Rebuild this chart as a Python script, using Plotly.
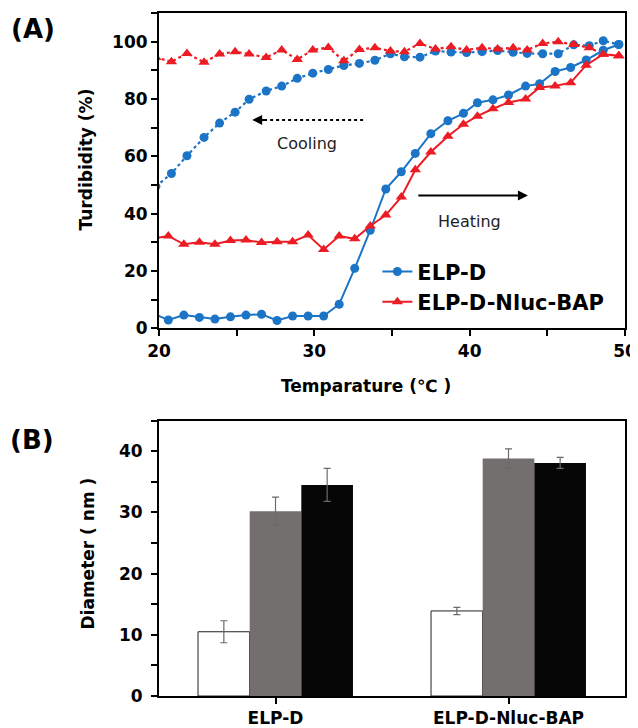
import plotly.graph_objects as go

# ---------------- Panel A data ----------------
heat_temp = [19.6, 20.6, 21.6, 22.6, 23.6, 24.6, 25.6, 26.6, 27.6, 28.6, 29.6, 30.6,
             31.6, 32.6, 33.6, 34.6, 35.6, 36.5, 37.5, 38.6, 39.6, 40.5, 41.5, 42.5,
             43.6, 44.5, 45.5, 46.5, 47.5, 48.6, 49.6]
elp_heat = [5.2, 2.9, 4.6, 3.8, 3.2, 4.0, 4.6, 4.9, 2.7, 4.3, 4.3, 4.3,
            8.4, 20.9, 34.2, 48.6, 54.6, 61.0, 67.9, 72.4, 75.0, 78.7, 79.7, 81.4,
            84.5, 85.3, 89.6, 91.0, 93.6, 97.0, 99.0]
nluc_heat = [31.3, 32.2, 29.3, 30.0, 29.3, 30.6, 30.8, 29.9, 30.2, 30.2, 32.5, 27.5,
             32.2, 31.2, 35.7, 39.5, 45.8, 55.3, 61.5, 67.0, 71.2, 74.0, 76.6, 78.8,
             80.0, 84.0, 84.5, 85.7, 91.8, 95.6, 95.1]

cool_temp = [19.8, 20.8, 21.8, 22.9, 23.9, 24.9, 25.8, 26.9, 27.9, 28.9, 29.9, 30.9,
             31.9, 32.9, 33.9, 34.9, 35.8, 36.8, 37.8, 38.8, 39.8, 40.8, 41.8, 42.8,
             43.7, 44.7, 45.7, 46.7, 47.7, 48.6, 49.6]
elp_cool = [49.5, 54.0, 60.2, 66.6, 71.6, 75.4, 79.9, 82.8, 84.5, 87.2, 89.0, 90.3,
            91.7, 92.4, 93.5, 95.8, 94.7, 94.6, 96.7, 96.4, 96.2, 96.5, 96.9, 96.3,
            95.9, 95.8, 95.8, 98.9, 98.6, 100.3, 99.0]
nluc_cool = [94.5, 93.0, 95.9, 92.8, 95.7, 96.5, 95.7, 94.5, 97.1, 93.8, 97.1, 98.0,
             93.3, 97.3, 97.9, 96.7, 96.5, 99.4, 97.4, 98.2, 97.1, 97.9, 97.4, 97.9,
             97.1, 99.4, 100.0, 99.0, 97.9, 95.6, 95.1]

x_ticks_a = [20, 30, 40, 50]
y_ticks_a = [0, 20, 40, 60, 80, 100]

# ---------------- Panel B data ----------------
samples = ["ELP-D", "ELP-D-Nluc-BAP"]
diam_white = [10.5, 13.9]
err_white = [1.8, 0.6]
diam_gray = [30.2, 38.8]
err_gray = [2.3, 1.6]
diam_black = [34.5, 38.1]
err_black = [2.7, 0.9]

BLUE = "#1b74c5"
RED = "#ec1c24"
FONT = "DejaVu Sans"

fig = go.Figure()

# Panel A traces
fig.add_trace(go.Scatter(x=cool_temp, y=elp_cool, mode="lines+markers", name="ELP-D cooling",
                         line=dict(color=BLUE, width=2.2, dash="dot"),
                         marker=dict(symbol="circle", size=9, color=BLUE),
                         showlegend=False, xaxis="x", yaxis="y"))
fig.add_trace(go.Scatter(x=cool_temp, y=nluc_cool, mode="lines+markers", name="ELP-D-Nluc-BAP cooling",
                         line=dict(color=RED, width=2.2, dash="dot"),
                         marker=dict(symbol="triangle-up", size=10, color=RED),
                         showlegend=False, xaxis="x", yaxis="y"))
fig.add_trace(go.Scatter(x=heat_temp, y=elp_heat, mode="lines+markers", name="ELP-D",
                         line=dict(color=BLUE, width=2),
                         marker=dict(symbol="circle", size=9, color=BLUE),
                         xaxis="x", yaxis="y"))
fig.add_trace(go.Scatter(x=heat_temp, y=nluc_heat, mode="lines+markers", name="ELP-D-Nluc-BAP",
                         line=dict(color=RED, width=2),
                         marker=dict(symbol="triangle-up", size=10, color=RED),
                         xaxis="x", yaxis="y"))

# Panel B traces
err_style = dict(type="data", visible=True, color="#6a6a6a", thickness=1.2, width=3.5)
fig.add_trace(go.Bar(x=samples, y=diam_white, name="white", showlegend=False,
                     marker=dict(color="white", line=dict(color="#222222", width=1)),
                     error_y=dict(array=err_white, **err_style), xaxis="x2", yaxis="y2"))
fig.add_trace(go.Bar(x=samples, y=diam_gray, name="gray", showlegend=False,
                     marker=dict(color="#736f6e", line=dict(width=0)),
                     error_y=dict(array=err_gray, **err_style), xaxis="x2", yaxis="y2"))
fig.add_trace(go.Bar(x=samples, y=diam_black, name="black", showlegend=False,
                     marker=dict(color="#060606", line=dict(width=0)),
                     error_y=dict(array=err_black, **err_style), xaxis="x2", yaxis="y2"))

tickfont = dict(family=FONT, size=17, color="black", weight="bold")
axis_common = dict(showline=True, linecolor="black", linewidth=2, mirror=True,
                   ticks="outside", ticklen=6, tickwidth=2, tickcolor="black",
                   showgrid=False, zeroline=False, tickfont=tickfont, automargin=False)

# The page body has an 8px margin, so the figure is 8px smaller and margins shifted.
fig.update_layout(
    width=630, height=720,
    margin=dict(l=151, r=13, t=5, b=32, autoexpand=False),
    paper_bgcolor="white", plot_bgcolor="white",
    barmode="group", bargap=0.335, bargroupgap=0,
    xaxis=dict(domain=[0, 1], anchor="y", range=[20, 50], tickvals=x_ticks_a,
               minor=dict(ticks="outside", dtick=5, tick0=20, ticklen=6, tickwidth=2, tickcolor="black"),
               **axis_common),
    yaxis=dict(domain=[0.5384, 1], anchor="x", range=[0, 110], tickvals=y_ticks_a,
               minor=dict(ticks="outside", dtick=10, tick0=0, ticklen=6, tickwidth=2, tickcolor="black"),
               **axis_common),
    xaxis2=dict(domain=[0, 1], anchor="y2", type="category", **axis_common),
    yaxis2=dict(domain=[0, 0.4031], anchor="x2", range=[0, 45], tickvals=[0, 10, 20, 30, 40],
                minor=dict(ticks="outside", dtick=5, tick0=0, ticklen=6, tickwidth=2, tickcolor="black"),
                ticklabelstandoff=5, **axis_common),
    legend=dict(x=0.4686, y=0.651, xanchor="left", yanchor="top",
                font=dict(family=FONT, size=21, color="black", weight="bold"),
                bgcolor="rgba(0,0,0,0)", borderwidth=0, itemwidth=30),
    font=dict(family=FONT, color="black"),
)

# Cooling dotted arrow
fig.add_shape(type="line", xref="x", yref="y", x0=33.14, y0=72.7, x1=26.6, y1=72.7,
              line=dict(color="black", width=2, dash="dot"))
fig.add_annotation(xref="x", yref="y", x=26.0, y=72.7, ax=26.9, ay=72.7, axref="x", ayref="y",
                   showarrow=True, arrowhead=2, arrowsize=1, arrowwidth=2, arrowcolor="black", text="")
fig.add_annotation(xref="x", yref="y", x=29.5, y=64.6, text="Cooling", showarrow=False,
                   xanchor="center", yanchor="middle",
                   font=dict(family=FONT, size=16, color="#222222"))
# Heating arrow
fig.add_annotation(xref="x", yref="y", x=43.75, y=46.3, ax=36.6, ay=46.3, axref="x", ayref="y",
                   showarrow=True, arrowhead=2, arrowsize=1, arrowwidth=2, arrowcolor="black", text="")
fig.add_annotation(xref="x", yref="y", x=40.0, y=37.3, text="Heating", showarrow=False,
                   xanchor="center", yanchor="middle",
                   font=dict(family=FONT, size=16, color="#222222"))

# Axis titles and panel labels
title_font = dict(family=FONT, size=17, color="black", weight="bold")
fig.add_annotation(xref="paper", yref="paper", x=-0.1577, y=0.7848, text="Turdibidity (%)",
                   textangle=-90, showarrow=False, xanchor="center", yanchor="middle", font=title_font)
fig.add_annotation(xref="paper", yref="paper", x=0.4442, y=0.4539, text="Temparature (℃ )",
                   showarrow=False, xanchor="center", yanchor="middle", font=title_font)
fig.add_annotation(xref="paper", yref="paper", x=-0.1534, y=0.2079, text="Diameter ( nm )",
                   textangle=-90, showarrow=False, xanchor="center", yanchor="middle", font=title_font)
panel_font = dict(family=FONT, size=26, color="black", weight="bold")
fig.add_annotation(xref="paper", yref="paper", x=-0.2704, y=0.9766, text="(A)",
                   showarrow=False, xanchor="center", yanchor="middle", font=panel_font)
fig.add_annotation(xref="paper", yref="paper", x=-0.2736, y=0.3748, text="(B)",
                   showarrow=False, xanchor="center", yanchor="middle", font=panel_font)

fig.write_html("out.html")
